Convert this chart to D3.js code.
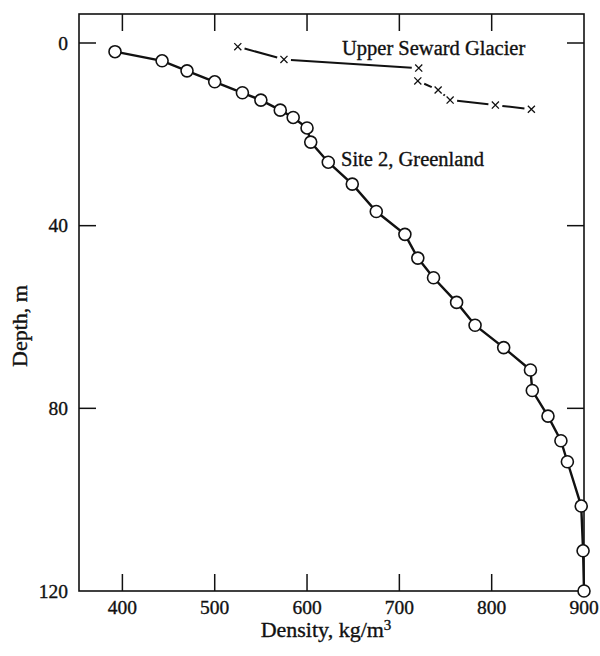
<!DOCTYPE html>
<html>
<head>
<meta charset="utf-8">
<script src="https://cdn.jsdelivr.net/npm/d3@7"></script>
<style>
  body { margin: 0; background: #fff; }
  svg text { font-family: "Liberation Serif", "DejaVu Serif", serif; fill: #111; stroke: #111; stroke-width: 0.35px; }
</style>
</head>
<body>
<svg id="chart" width="600" height="656"></svg>
<script>
// Site 2, Greenland (density kg/m3, depth m)
const greenlandDensity = [392, 443, 470, 500, 530, 550, 571, 585, 600, 604, 623, 649, 675, 706, 720, 737, 762, 782, 813, 842, 844, 861, 875, 882, 897, 899, 900];
const greenlandDepth   = [1.9, 3.9, 6.1, 8.5, 10.9, 12.5, 14.7, 16.3, 18.6, 21.7, 26.1, 30.9, 36.9, 41.9, 47.1, 51.4, 56.8, 61.8, 66.7, 71.6, 76.1, 81.7, 87.1, 91.7, 101.4, 111.2, 120];

// Upper Seward Glacier
const sewardDensity = [525, 575, 721, 720, 742, 755, 804, 843];
const sewardDepth   = [0.8, 3.6, 5.5, 8.3, 10.3, 12.5, 13.6, 14.5];

const xTicks = [400, 500, 600, 700, 800, 900];
const yTicks = [0, 40, 80, 120];

const svg = d3.select("#chart");
const mLeft = 79, mRight = 584, mTop = 14, mBottom = 591;

const x = d3.scaleLinear().domain([353, 900]).range([mLeft, mRight]);
const y = d3.scaleLinear().domain([0, 120]).range([43, mBottom]);

// frame
svg.append("rect")
  .attr("x", mLeft).attr("y", mTop)
  .attr("width", mRight - mLeft).attr("height", mBottom - mTop)
  .attr("fill", "none").attr("stroke", "#111").attr("stroke-width", 1.6);

const tickLen = 17;
const inner = xTicks.filter(d => d < 900);

// bottom and top ticks (inward)
svg.append("g").selectAll("line").data(inner).join("line")
  .attr("x1", d => x(d)).attr("x2", d => x(d))
  .attr("y1", mBottom).attr("y2", mBottom - tickLen)
  .attr("stroke", "#111").attr("stroke-width", 1.5);
svg.append("g").selectAll("line").data(inner).join("line")
  .attr("x1", d => x(d)).attr("x2", d => x(d))
  .attr("y1", mTop).attr("y2", mTop + tickLen)
  .attr("stroke", "#111").attr("stroke-width", 1.5);

// left and right ticks (inward)
const yInner = yTicks.filter(d => d < 120);
svg.append("g").selectAll("line").data(yInner).join("line")
  .attr("x1", mLeft).attr("x2", mLeft + tickLen)
  .attr("y1", d => y(d)).attr("y2", d => y(d))
  .attr("stroke", "#111").attr("stroke-width", 1.5);
svg.append("g").selectAll("line").data(yInner).join("line")
  .attr("x1", mRight).attr("x2", mRight - tickLen)
  .attr("y1", d => y(d)).attr("y2", d => y(d))
  .attr("stroke", "#111").attr("stroke-width", 1.5);

// tick labels
svg.append("g").selectAll("text").data(xTicks).join("text")
  .attr("x", d => x(d)).attr("y", 614)
  .attr("text-anchor", "middle")
  .style("font-size", "19.5px")
  .text(d => d);
svg.append("g").selectAll("text").data(yTicks).join("text")
  .attr("x", 68).attr("y", d => y(d))
  .attr("dy", "0.35em")
  .attr("text-anchor", "end")
  .style("font-size", "19.5px")
  .text(d => d);

// axis titles
const xt = svg.append("text")
  .attr("x", 326).attr("y", 637)
  .attr("text-anchor", "middle")
  .style("font-size", "22px")
  .text("Density, kg/m");
xt.append("tspan").attr("dy", "-0.45em").style("font-size", "15px").text("3");

svg.append("text")
  .attr("transform", "translate(27,326) rotate(-90)")
  .attr("text-anchor", "middle")
  .style("font-size", "22px")
  .text("Depth, m");

// Greenland line + circles
const green = greenlandDensity.map((d, i) => ({ d, z: greenlandDepth[i] }));
const line = d3.line().x(p => x(p.d)).y(p => y(p.z));

svg.append("path")
  .datum(green)
  .attr("d", line)
  .attr("fill", "none").attr("stroke", "#111").attr("stroke-width", 2.4);

svg.append("g").selectAll("circle").data(green).join("circle")
  .attr("cx", p => x(p.d)).attr("cy", p => y(p.z))
  .attr("r", 6)
  .attr("fill", "#fff").attr("stroke", "#111").attr("stroke-width", 1.6);

// Seward: segments with gaps around the crosses
const seward = sewardDensity.map((d, i) => ({ d, z: sewardDepth[i] }));
const gap = 7;
const segs = d3.pairs(seward).map(([a, b]) => {
  const x1 = x(a.d), y1 = y(a.z), x2 = x(b.d), y2 = y(b.z);
  const len = Math.hypot(x2 - x1, y2 - y1);
  if (len <= 2 * gap) return null;
  const ux = (x2 - x1) / len, uy = (y2 - y1) / len;
  return [x1 + ux * gap, y1 + uy * gap, x2 - ux * gap, y2 - uy * gap];
}).filter(s => s);

svg.append("g").selectAll("line").data(segs).join("line")
  .attr("x1", s => s[0]).attr("y1", s => s[1])
  .attr("x2", s => s[2]).attr("y2", s => s[3])
  .attr("stroke", "#111").attr("stroke-width", 2);

svg.append("g").selectAll("path").data(seward).join("path")
  .attr("transform", p => `translate(${x(p.d)},${y(p.z)}) rotate(45)`)
  .attr("d", "M-5,0H5M0,-5V5")
  .attr("stroke", "#111").attr("stroke-width", 1.3).attr("fill", "none");

// series labels
svg.append("text")
  .attr("x", 342).attr("y", 55)
  .style("font-size", "20.5px")
  .text("Upper Seward Glacier");
svg.append("text")
  .attr("x", 341).attr("y", 166)
  .style("font-size", "20.5px")
  .text("Site 2, Greenland");
</script>
</body>
</html>
